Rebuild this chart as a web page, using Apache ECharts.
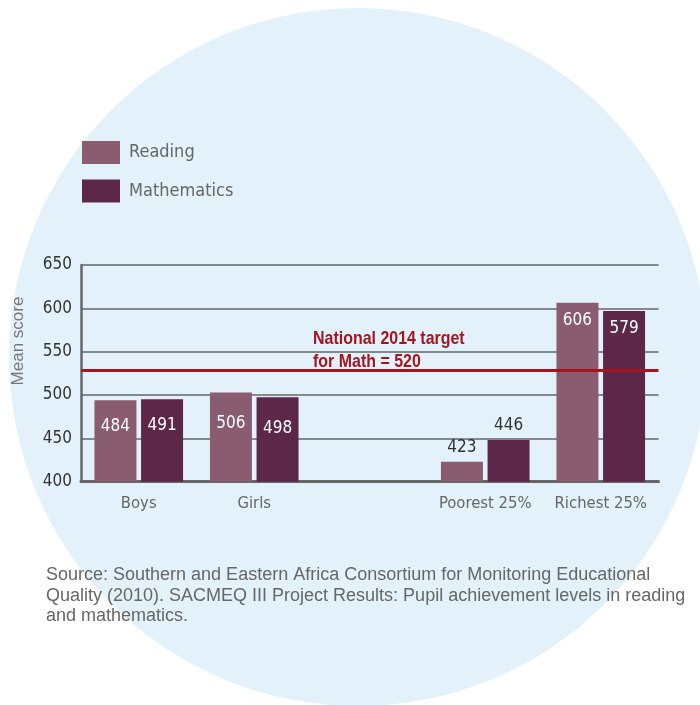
<!DOCTYPE html>
<html>
<head>
<meta charset="utf-8">
<script src="https://cdn.jsdelivr.net/npm/echarts@6/dist/echarts.min.js"></script>
<style>
  html, body { margin: 0; padding: 0; background: #fff; }
  #chart { width: 700px; height: 705px; }
</style>
</head>
<body>
<div id="chart"></div>
<script>
// categories (empty slot between Girls and Poorest 25%)
var categories = ['Boys', 'Girls', '', 'Poorest 25%', 'Richest 25%'];
// bar heights as drawn in the picture
var readingValues = [494, 503, null, 423, 606.5];
var mathValues = [495, 497.5, null, 448, 597];
// value labels as printed on the bars
var readingLabels = ['484', '506', '', '423', '606'];
var mathLabels = ['491', '498', '', '446', '579'];
// target line
var targetValue = 528;
var targetText = 'National 2014 target\nfor Math = 520';
var yTicks = [400, 450, 500, 550, 600, 650];

var NARROW = "'Liberation Sans Narrow', 'DejaVu Sans Condensed', 'Roboto', sans-serif";
var REGULAR = "'Liberation Sans', 'Roboto', sans-serif";

// label placement per category (inside near the top, or above the short bars)
function buildData(values, labels) {
  var out = [];
  for (var i = 0; i < values.length; i++) {
    var cat = categories[i];
    var lab;
    if (cat === 'Poorest 25%') {
      lab = { show: true, position: 'top', distance: 6, color: '#333' };
    } else if (cat === 'Richest 25%') {
      lab = { show: true, position: 'insideTop', distance: 9, color: '#fff' };
    } else if (cat === 'Girls') {
      lab = { show: true, position: 'insideTop', distance: 23, color: '#fff' };
    } else {
      lab = { show: true, position: 'insideTop', distance: 18, color: '#fff' };
    }
    lab.formatter = labels[i];
    lab.fontFamily = NARROW;
    lab.fontSize = 17;
    out.push({ value: values[i], label: lab });
  }
  return out;
}

var chart = echarts.init(document.getElementById('chart'));
chart.setOption({
  animation: false,
  backgroundColor: '#ffffff',
  color: ['#8a5c6f', '#5c2748'],
  graphic: [
    {
      type: 'circle', z: -10, silent: true,
      shape: { cx: 358, cy: 357, r: 349 },
      style: { fill: '#e3f1fb' }
    },
    {
      type: 'text', x: 18, y: 341, rotation: Math.PI / 2,
      style: {
        text: 'Mean score', fill: '#777', font: '17px ' + REGULAR,
        textAlign: 'center', textVerticalAlign: 'middle'
      }
    },
    {
      type: 'text', x: 313, y: 327, scaleX: 0.84,
      style: {
        text: targetText, fill: '#a31621', font: 'bold 19px ' + REGULAR,
        lineHeight: 23, textVerticalAlign: 'top'
      }
    },
    {
      type: 'text', left: 46, top: 565,
      style: {
        text: 'Source: Southern and Eastern Africa Consortium for Monitoring Educational\nQuality (2010). SACMEQ III Project Results: Pupil achievement levels in reading\nand mathematics.',
        fill: '#666', font: '18px ' + REGULAR, lineHeight: 20.5
      }
    }
  ],
  legend: {
    orient: 'vertical',
    left: 82,
    top: 141,
    padding: 0,
    itemWidth: 38,
    itemHeight: 23,
    itemGap: 15.5,
    icon: 'rect',
    textStyle: { fontFamily: NARROW, fontSize: 18, color: '#666', padding: [0, 0, 0, 4] },
    data: ['Reading', 'Mathematics']
  },
  grid: {
    left: 81,
    right: 41.5,
    top: 265,
    bottom: 223.3
  },
  xAxis: {
    type: 'category',
    data: categories,
    axisTick: { show: false },
    axisLine: { lineStyle: { color: '#666', width: 3 } },
    axisLabel: { interval: 0, color: '#666', fontFamily: NARROW, fontSize: 16.5, margin: 14 }
  },
  yAxis: {
    type: 'value',
    min: yTicks[0],
    max: yTicks[yTicks.length - 1],
    interval: 50,
    axisLine: { show: true, lineStyle: { color: '#666', width: 2.5 } },
    axisTick: { show: false },
    axisLabel: { color: '#333', fontFamily: NARROW, fontSize: 17, margin: 9 },
    splitLine: { lineStyle: { color: '#666', width: 1.5 } }
  },
  series: [
    {
      name: 'Reading',
      type: 'bar',
      barWidth: 42,
      barGap: '11%',
      data: buildData(readingValues, readingLabels),
      markLine: {
        silent: true,
        symbol: 'none',
        label: { show: false },
        lineStyle: { color: '#a8141e', width: 3, type: 'solid' },
        data: [{ yAxis: targetValue }]
      }
    },
    {
      name: 'Mathematics',
      type: 'bar',
      barWidth: 42,
      data: buildData(mathValues, mathLabels)
    }
  ]
});
</script>
</body>
</html>
